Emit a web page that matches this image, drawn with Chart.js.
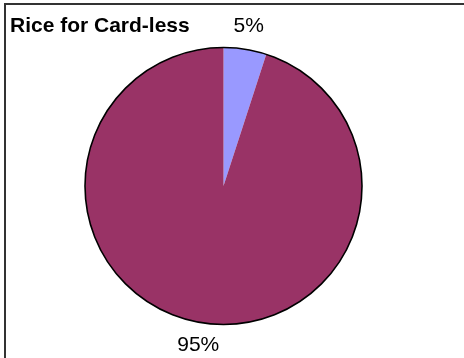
<!DOCTYPE html>
<html>
<head>
<meta charset="utf-8">
<script src="https://cdn.jsdelivr.net/npm/chart.js@4/dist/chart.umd.min.js"></script>
<style>
  html, body { margin: 0; padding: 0; background: #fff; overflow: hidden; }
  #wrap { position: relative; width: 464px; height: 358px; }
  #frame { position: absolute; left: 4px; top: 3px; width: 480px; height: 380px;
           border-top: 2px solid #333; border-left: 2px solid #333; }
  #chart { position: absolute; left: 0; top: 0; }
</style>
</head>
<body>
<div id="wrap">
  <div id="frame"></div>
  <canvas id="chart" width="464" height="358"></canvas>
</div>
<script>
// Rice distribution for households without ration cards
const chartTitle = 'Rice for Card-less';
const categories = ['Received', 'Not received'];
const shares = [5, 95];
const sliceColors = ['#9999ff', '#993366'];

// outer rim + percentage labels + title, drawn on top of the pie
const pieDecor = {
    id: 'pieDecor',
    afterDatasetsDraw(chart) {
        const ctx = chart.ctx;
        const arcs = chart.getDatasetMeta(0).data;
        const first = arcs[0];
        ctx.save();
        ctx.beginPath();
        ctx.arc(first.x, first.y, first.outerRadius, 0, Math.PI * 2);
        ctx.lineWidth = 1.6;
        ctx.strokeStyle = '#000';
        ctx.stroke();

        const total = shares.reduce((a, b) => a + b, 0);
        ctx.fillStyle = '#000';
        ctx.font = '21px "Liberation Sans", Arial, sans-serif';
        ctx.textAlign = 'center';
        ctx.textBaseline = 'middle';
        arcs.forEach((arc, i) => {
            const mid = (arc.startAngle + arc.endAngle) / 2;
            const r = arc.outerRadius + 23;
            const pct = Math.round(shares[i] / total * 100) + '%';
            ctx.fillText(pct, arc.x + Math.cos(mid) * r, arc.y + Math.sin(mid) * r);
        });

        ctx.font = 'bold 21px "Liberation Sans", Arial, sans-serif';
        ctx.textAlign = 'left';
        ctx.textBaseline = 'alphabetic';
        ctx.fillText(chartTitle, 10, 32);
        ctx.restore();
    }
};

new Chart(document.getElementById('chart'), {
    type: 'pie',
    data: {
        labels: categories,
        datasets: [{
            data: shares,
            backgroundColor: sliceColors,
            borderWidth: 0
        }]
    },
    options: {
        responsive: false,
        animation: false,
        layout: { padding: { left: 85, right: 102, top: 47, bottom: 33 } },
        plugins: {
            legend: { display: false },
            tooltip: { enabled: false }
        }
    },
    plugins: [pieDecor]
});
</script>
</body>
</html>
